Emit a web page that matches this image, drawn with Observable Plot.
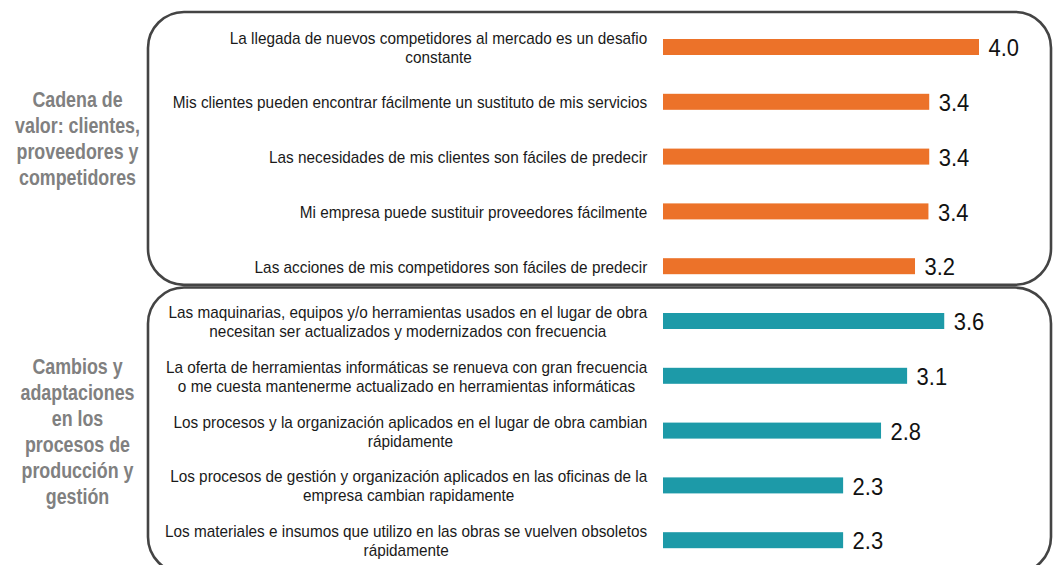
<!DOCTYPE html>
<html>
<head>
<meta charset="utf-8">
<script src="https://cdn.jsdelivr.net/npm/d3@7"></script>
<script src="https://cdn.jsdelivr.net/npm/@observablehq/plot@0.6"></script>
<style>
  html, body { margin: 0; padding: 0; background: #fff; overflow: hidden; }
</style>
</head>
<body>
<div id="chart"></div>
<script>
// ---------------- data ----------------
const groupNames = [
  "Cadena de\nvalor: clientes,\nproveedores y\ncompetidores",
  "Cambios y\nadaptaciones\nen los\nprocesos de\nproducción y\ngestión"
];
const rowLabels = [
  "La llegada de nuevos competidores al mercado es un desafio\nconstante",
  "Mis clientes pueden encontrar fácilmente un sustituto de mis servicios",
  "Las necesidades de mis clientes son fáciles de predecir",
  "Mi empresa puede sustituir proveedores fácilmente",
  "Las acciones de mis competidores son fáciles de predecir",
  "Las maquinarias, equipos y/o herramientas usados en el lugar de obra\nnecesitan ser actualizados y modernizados con frecuencia",
  "La oferta de herramientas informáticas se renueva con gran frecuencia\no me cuesta mantenerme actualizado en herramientas informáticas",
  "Los procesos y la organización aplicados en el lugar de obra cambian\nrápidamente",
  "Los procesos de gestión y organización aplicados en las oficinas de la\nempresa cambian rapidamente",
  "Los materiales e insumos que utilizo en las obras se vuelven obsoletos\nrápidamente"
];
const rowGroup = [0, 0, 0, 0, 0, 1, 1, 1, 1, 1];
const values = [4.0, 3.37, 3.37, 3.36, 3.19, 3.56, 3.09, 2.76, 2.28, 2.28];
const barColors = ["#EC7229", "#1D9AA8"];

// ---------------- layout / style ----------------
const X_DOMAIN = [0, 4];
const X_RANGE = [663, 979];
const Y_RANGE = [19.6, 567.6];
const xs = d3.scaleLinear(X_DOMAIN, X_RANGE);

const family = `"Liberation Sans", Arial, sans-serif`;
const ctx = document.createElement("canvas").getContext("2d");
function measure(text, font) { ctx.font = font; return ctx.measureText(text).width; }

// Arial-Narrow-like look: regular face, horizontally compressed to the reference widths
const rowSize = 16, groupSize = 22, valSize = 24;
const rowSx = Math.min(1, 475 / measure(rowLabels[1], `${rowSize}px ${family}`));
const groupSx = Math.min(1, 125 / measure("valor: clientes,", `bold ${groupSize}px ${family}`));
const valSx = Math.min(1, 30.5 / measure("4.0", `${valSize}px ${family}`));

const LABEL_RIGHT = 647;
const rows = rowLabels.map((label, i) => {
  const w = rowSx * d3.max(label.split("\n"), l => measure(l, `${rowSize}px ${family}`));
  return { i, label, value: values[i], group: rowGroup[i], lx: xs.invert(LABEL_RIGHT - w / 2) };
});
const groupRows = groupNames.map((name, g) => {
  const idx = rows.filter(r => r.group === g).map(r => r.i);
  return { name, g, i: idx[Math.floor(idx.length / 2)], gx: xs.invert(77) };
});

// rounded frames around each group, positioned from the y scale
function frames(index, scales) {
  const y = scales.y;
  const bw = y.bandwidth ? y.bandwidth() : 16;
  const step = y.step ? y.step() : 54.8;
  const g = d3.create("svg:g").attr("fill", "none").attr("stroke", "#444").attr("stroke-width", 2.6);
  const spec = [[0, 0.64, 0.34], [1, 0.61, 0.6]];
  for (const [grp, up, down] of spec) {
    const idx = rows.filter(r => r.group === grp).map(r => r.i);
    const top = y(idx[0]) + bw / 2 - step * up;
    const bottom = y(idx[idx.length - 1]) + bw / 2 + step * down;
    g.append("rect")
      .attr("x", 148).attr("y", top)
      .attr("width", 1051 - 148).attr("height", bottom - top)
      .attr("rx", 36).attr("ry", 36);
  }
  return g.node();
}

const chart = Plot.plot({
  width: 1053,
  height: 565,
  x: { domain: X_DOMAIN, range: X_RANGE, axis: null },
  y: { type: "band", domain: d3.range(rowLabels.length), range: Y_RANGE, paddingInner: 0.708, paddingOuter: 0.354, round: false, axis: null },
  color: { domain: [0, 1], range: barColors },
  style: { fontFamily: family, background: "white" },
  marks: [
    frames,
    Plot.barX(rows, { x: "value", y: "i", fill: "group" }),
    Plot.text(rows, {
      x: "lx", y: "i", text: "label", textAnchor: "middle", lineAnchor: "middle",
      fontSize: rowSize, lineHeight: 19 / rowSize, fill: "#1a1a1a"
    }),
    Plot.text(rows, {
      x: "value", y: "i", text: d => d3.format(".1f")(d.value), textAnchor: "start",
      dx: 9, dy: 1, fontSize: valSize, fill: "#111"
    }),
    Plot.text(groupRows.filter(d => d.g === 0), {
      x: "gx", y: "i", text: "name", textAnchor: "middle", lineAnchor: "middle", dy: -19,
      fontSize: groupSize, fontWeight: "bold", lineHeight: 26 / groupSize, fill: "#808080"
    }),
    Plot.text(groupRows.filter(d => d.g === 1), {
      x: "gx", y: "i", text: "name", textAnchor: "middle", lineAnchor: "middle", dy: 0,
      fontSize: groupSize, fontWeight: "bold", lineHeight: 26 / groupSize, fill: "#808080"
    })
  ]
});

// compress text horizontally around each anchor point
const sxByMark = [rowSx, valSx, groupSx, groupSx];
d3.select(chart).selectAll('g[aria-label="text"]').each(function (_, k) {
  const sx = sxByMark[k] ?? 1;
  d3.select(this).selectAll("text").each(function () {
    const el = d3.select(this);
    const t = el.attr("transform");
    if (t) {
      el.attr("transform", `${t} scale(${sx},1)`);
    } else {
      const x = +el.attr("x") || 0, y = +el.attr("y") || 0;
      el.attr("x", null).attr("y", null).attr("transform", `translate(${x},${y}) scale(${sx},1)`);
    }
  });
});

document.getElementById("chart").appendChild(chart);
</script>
</body>
</html>
